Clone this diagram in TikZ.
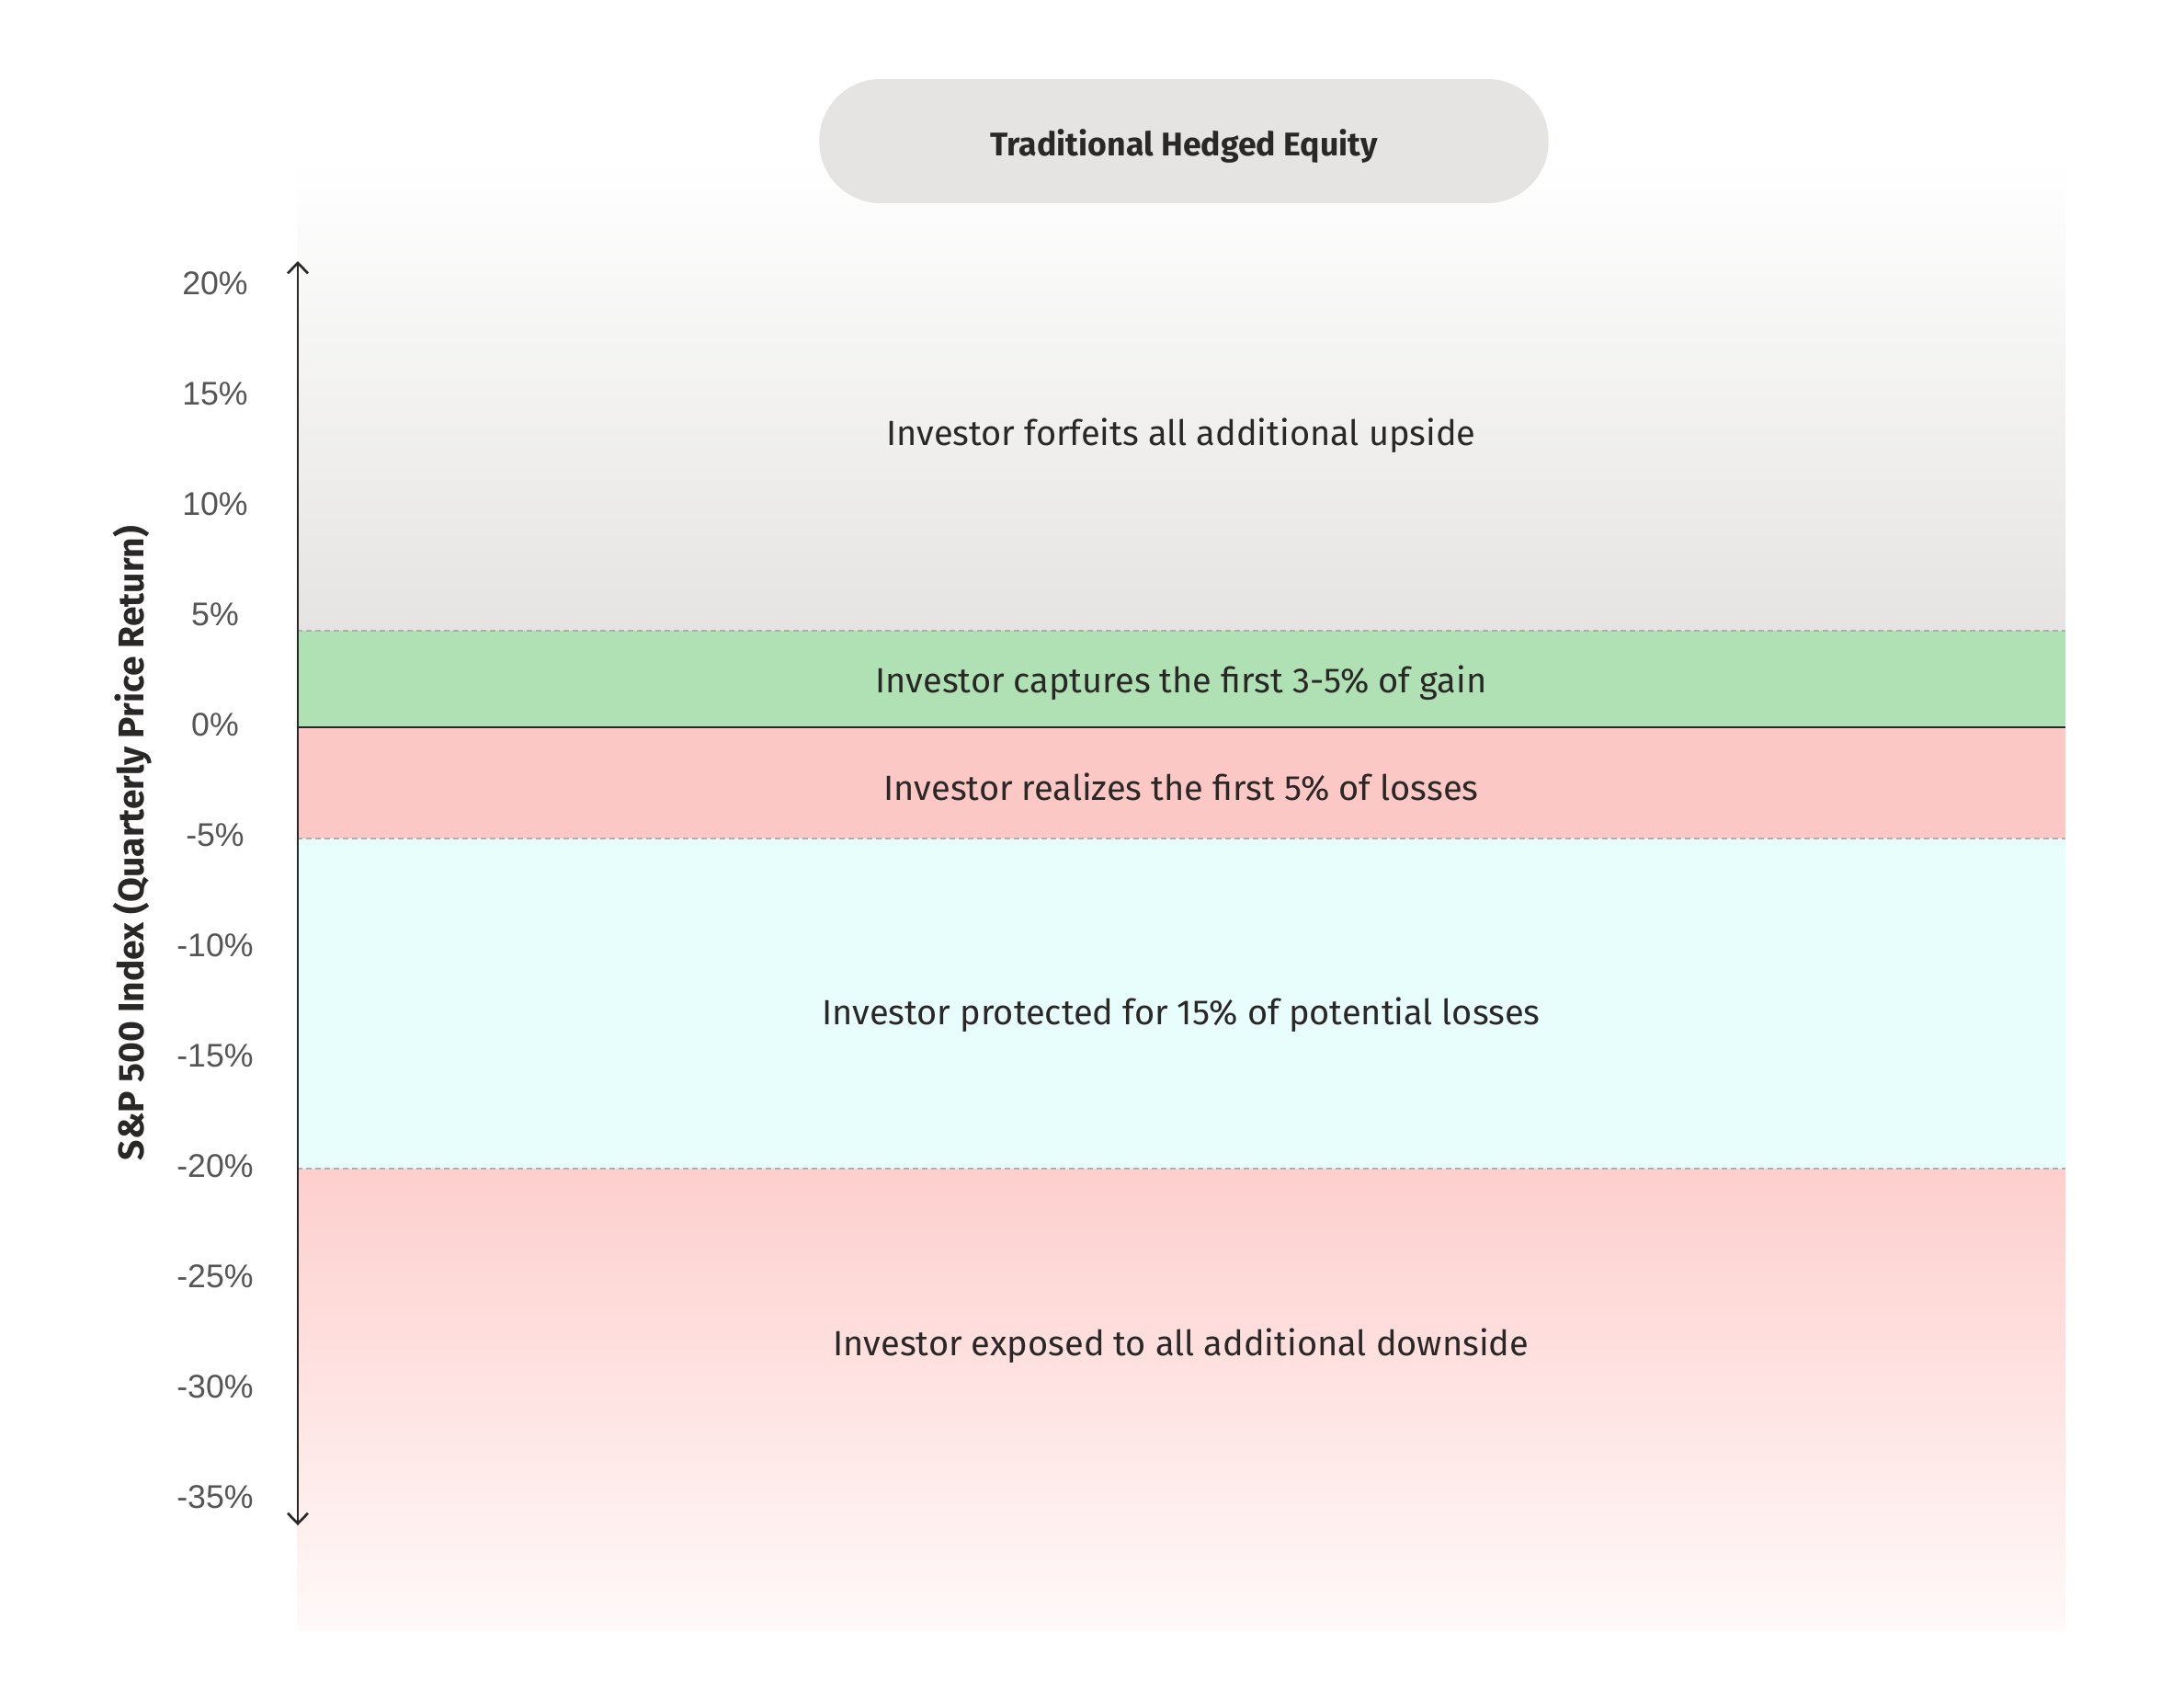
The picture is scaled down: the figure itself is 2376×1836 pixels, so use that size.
\documentclass[tikz,border=0pt]{standalone}
\usepackage{fontspec}
\setmainfont{Fira Sans}
\newfontfamily\tickfont{Liberation Sans}
\usetikzlibrary{arrows.meta}
\definecolor{pillgray}{HTML}{E5E4E2}
\definecolor{bandgray}{HTML}{E5E4E2}
\definecolor{bandgreen}{HTML}{B0E1B4}
\definecolor{bandred}{HTML}{FCC8C6}
\definecolor{bandcyan}{HTML}{E7FEFD}
\definecolor{bandredtop}{HTML}{FDCFCD}
\definecolor{bandredmid}{HTML}{FEDAD9}
\definecolor{bandredbot}{HTML}{FFF9F9}
\definecolor{textdark}{HTML}{2A2727}
\definecolor{ticktext}{HTML}{555555}
\definecolor{dashgray}{HTML}{AEAEAE}
\begin{document}
\begin{tikzpicture}[x=0.3pt,y=-0.3pt,
  pill/.style={fill=pillgray,rounded corners=20pt,minimum width=238pt,minimum height=40.5pt,inner sep=0pt,
    font=\fontsize{10.7pt}{12pt}\selectfont\bfseries,text=textdark},
  bandlabel/.style={font=\fontsize{11.4pt}{13pt}\selectfont,text=textdark,inner sep=0pt},
  ticklabel/.style={font=\tickfont\fontsize{10.7pt}{12pt}\selectfont,text=ticktext,inner sep=0pt},
  axislabel/.style={font=\fontsize{11.7pt}{13pt}\selectfont\bfseries,text=textdark,rotate=90,inner sep=0pt},
  bandsep/.style={draw=dashgray,line width=0.6pt,dash pattern=on 1.8pt off 1.2pt},
  zeroline/.style={draw=textdark,line width=0.8pt},
  axisline/.style={draw=textdark,line width=0.8pt,{Straight Barb[length=3.4pt,width=6.6pt]}-{Straight Barb[length=3.4pt,width=6.6pt]}}
]
\useasboundingbox[fill=white] (0,0) rectangle (2376,1836);
% bands
\shade[top color=white,bottom color=bandgray] (323,175) rectangle (2247,686);
\fill[bandgreen] (323,686) rectangle (2247,791);
\fill[bandred] (323,791) rectangle (2247,912);
\fill[bandcyan] (323,912) rectangle (2247,1271);
\shade[top color=bandredtop,middle color=bandredmid,bottom color=bandredbot] (323,1271) rectangle (2247,1773);
% separators
\coordinate (s1l) at (323,686); \coordinate (s1r) at (2247,686);
\coordinate (s2l) at (323,912); \coordinate (s2r) at (2247,912);
\coordinate (s3l) at (323,1271); \coordinate (s3r) at (2247,1271);
\coordinate (zl) at (323,791); \coordinate (zr) at (2247,791);
\draw[bandsep] (s1l) -- (s1r);
\draw[bandsep] (s2l) -- (s2r);
\draw[bandsep] (s3l) -- (s3r);
\draw[zeroline] (zl) -- (zr);
% axis
\coordinate (atop) at (324,284);
\coordinate (abot) at (324,1659);
\draw[axisline] (abot) -- (atop);
% title
\node[pill] (title) at (1288,153.5) {\raisebox{-4.9pt}[0pt][0pt]{Traditional Hedged Equity}};
% band labels
\node[bandlabel] (l1) at (1285,474) {Investor forfeits all additional upside};
\node[bandlabel] (l2) at (1285,743) {Investor captures the first 3-5\% of gain};
\node[bandlabel] (l3) at (1285,856) {Investor realizes the first 5\% of losses};
\node[bandlabel] (l4) at (1285,1104) {Investor protected for 15\% of potential losses};
\node[bandlabel] (l5) at (1285,1464) {Investor exposed to all additional downside};
% ticks
\foreach \v/\n [count=\i] in {20/20\%,15/15\%,10/10\%,5/5\%,0/0\%,-5/-5\%,-10/-10\%,-15/-15\%,-20/-20\%,-25/-25\%,-30/-30\%,-35/-35\%}{
  \node[ticklabel] (t\i) at (234,{788-24*\v}) {\n};
}
% axis label
\node[axislabel] (ylab) at (144,917) {S\&P 500 Index (Quarterly Price Return)};
\end{tikzpicture}
\end{document}
